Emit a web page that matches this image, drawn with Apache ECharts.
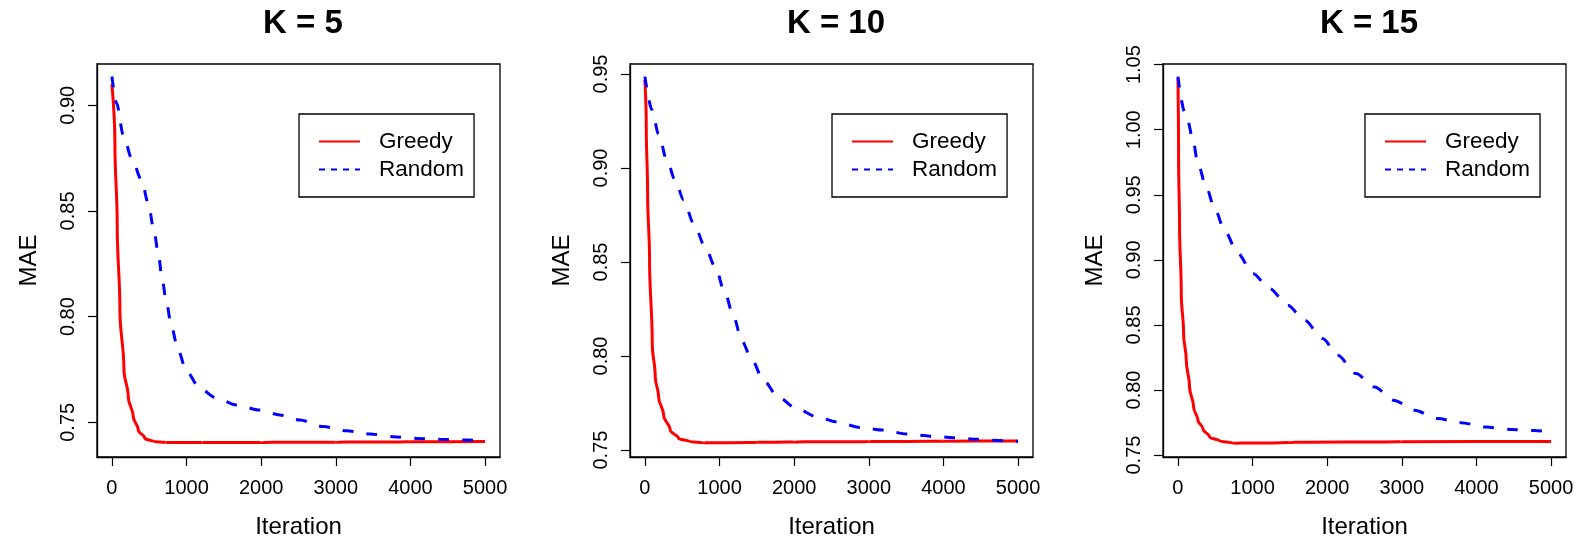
<!DOCTYPE html>
<html>
<head>
<meta charset="utf-8">
<script src="https://cdn.jsdelivr.net/npm/echarts@6/dist/echarts.min.js"></script>
<style>
html, body { margin: 0; padding: 0; background: #fff; }
#chart { width: 1589px; height: 537px; }
</style>
</head>
<body>
<div id="chart"></div>
<script>
// ---- data ----
const panelTitles = ['K = 5', 'K = 10', 'K = 15'];
const seriesNames = ['Greedy', 'Random'];
const iterTicks = [0, 1000, 2000, 3000, 4000, 5000];
const k5YTicks = [0.75, 0.80, 0.85, 0.90];
const k10YTicks = [0.75, 0.80, 0.85, 0.90, 0.95];
const k15YTicks = [0.75, 0.80, 0.85, 0.90, 0.95, 1.00, 1.05];

const k5GreedyIter = [0, 40, 71, 107, 161, 219, 286, 353, 442, 554, 732, 1200, 2000, 3000, 4000, 5000];
const k5GreedyMAE = [0.910, 0.882, 0.843, 0.803, 0.775, 0.762, 0.7527, 0.7464, 0.7424, 0.7409, 0.7404, 0.7404, 0.7405, 0.7406, 0.7408, 0.7409];
const k5RandomIter = [0, 62, 152, 263, 397, 487, 562, 621, 674, 732, 799, 888, 1000, 1179, 1402, 1670, 1982, 2250, 2518, 2830, 3143, 3455, 3768, 4080, 4393, 4750, 5000];
const k5RandomMAE = [0.9136, 0.901, 0.886, 0.875, 0.8647, 0.8536, 0.841, 0.830, 0.8174, 0.8063, 0.795, 0.784, 0.774, 0.766, 0.7614, 0.7582, 0.7558, 0.7535, 0.7511, 0.748, 0.746, 0.7445, 0.7432, 0.7424, 0.742, 0.7416, 0.7413];

const k10GreedyIter = [0, 18, 36, 62, 98, 138, 183, 250, 339, 451, 607, 786, 1500, 2000, 3000, 4000, 5000];
const k10GreedyMAE = [0.9468, 0.922, 0.8865, 0.851, 0.8067, 0.789, 0.7784, 0.7686, 0.7606, 0.7562, 0.7544, 0.7539, 0.7541, 0.7543, 0.7545, 0.7547, 0.7548];
const k10RandomIter = [0, 94, 183, 295, 406, 518, 652, 808, 942, 1076, 1188, 1299, 1433, 1589, 1790, 2036, 2304, 2571, 2884, 3196, 3509, 3821, 4134, 4446, 4804, 5000];
const k10RandomMAE = [0.9486, 0.931, 0.918, 0.904, 0.8934, 0.883, 0.8706, 0.858, 0.8474, 0.833, 0.821, 0.808, 0.798, 0.787, 0.778, 0.772, 0.7677, 0.765, 0.762, 0.7606, 0.7585, 0.7574, 0.7566, 0.7557, 0.755, 0.7546];

const k15GreedyIter = [0, 9, 22, 45, 76, 112, 156, 210, 268, 335, 424, 558, 736, 1500, 3000, 5000];
const k15GreedyMAE = [1.0395, 0.9767, 0.9254, 0.874, 0.8433, 0.8228, 0.8023, 0.7869, 0.7767, 0.7703, 0.7638, 0.7608, 0.7592, 0.7597, 0.7602, 0.7605];
const k15RandomIter = [0, 89, 134, 201, 268, 379, 491, 633, 803, 1004, 1227, 1472, 1695, 1940, 2141, 2386, 2632, 2899, 3167, 3479, 3791, 4126, 4460, 4773, 5000];
const k15RandomMAE = [1.0408, 1.0138, 1.0062, 0.992, 0.974, 0.956, 0.9395, 0.9215, 0.9049, 0.8895, 0.878, 0.8651, 0.8536, 0.8395, 0.8267, 0.8126, 0.8023, 0.792, 0.7844, 0.778, 0.7749, 0.7715, 0.7697, 0.7689, 0.7677];

// ---- layout / style ----
const FONT = "'Liberation Sans', Arial, Helvetica, sans-serif";
const panels = [
  { left: 97, yMin: 0.7336, yMax: 0.9195, yTicks: k5YTicks,
    g: [k5GreedyIter, k5GreedyMAE], r: [k5RandomIter, k5RandomMAE] },
  { left: 630, yMin: 0.7463, yMax: 0.9553, yTicks: k10YTicks,
    g: [k10GreedyIter, k10GreedyMAE], r: [k10RandomIter, k10RandomMAE] },
  { left: 1163, yMin: 0.7485, yMax: 1.0505, yTicks: k15YTicks,
    g: [k15GreedyIter, k15GreedyMAE], r: [k15RandomIter, k15RandomMAE] }
];
const GRID_W = 403, GRID_TOP = 64, GRID_H = 393;
const zip = (xs, ys) => xs.map((x, i) => [x, ys[i]]);
const SOLID_ICON = 'path://M0,0L41,0L41,2L0,2Z';
const DASH_ICON = 'path://M0,0h6v2h-6zM12,0h6v2h-6zM24,0h6v2h-6zM36,0h5v2h-5z';

const option = {
  backgroundColor: '#fff',
  animation: false,
  title: [], grid: [], xAxis: [], yAxis: [], series: [], legend: []
};

panels.forEach((p, i) => {
  option.title.push({
    text: panelTitles[i],
    left: p.left + GRID_W / 2 + 4.5,
    top: 7,
    padding: 0,
    textAlign: 'center',
    textStyle: { fontFamily: FONT, fontSize: 33, fontWeight: 'bold', color: '#000' }
  });
  option.grid.push({
    left: p.left, top: GRID_TOP, width: GRID_W, height: GRID_H,
    containLabel: false, outerBoundsMode: 'none',
    show: true, borderColor: '#000', borderWidth: 1.3, backgroundColor: 'transparent'
  });
  option.xAxis.push({
    type: 'value', gridIndex: i, min: -200, max: 5200, position: 'bottom',
    name: 'Iteration', nameLocation: 'middle', nameGap: 58,
    nameTextStyle: { fontFamily: FONT, fontSize: 24, color: '#000' },
    axisLine: { show: true, onZero: false, lineStyle: { color: '#000', width: 1.3 } },
    axisTick: { show: true, inside: false, length: 9, customValues: iterTicks,
      lineStyle: { color: '#000', width: 1.2 } },
    axisLabel: { customValues: iterTicks, margin: 21, formatter: v => String(v),
      fontFamily: FONT, fontSize: 20, color: '#000' },
    splitLine: { show: false }
  });
  option.yAxis.push({
    type: 'value', gridIndex: i, min: p.yMin, max: p.yMax, position: 'left',
    name: 'MAE', nameLocation: 'middle', nameGap: 56, nameRotate: 90,
    nameTextStyle: { fontFamily: FONT, fontSize: 24, color: '#000' },
    axisLine: { show: true, onZero: false, lineStyle: { color: '#000', width: 1.3 } },
    axisTick: { show: true, inside: false, length: 9, customValues: p.yTicks,
      lineStyle: { color: '#000', width: 1.2 } },
    axisLabel: { customValues: p.yTicks, rotate: 90, margin: 19,
      formatter: v => v.toFixed(2),
      fontFamily: FONT, fontSize: 20, color: '#000' },
    splitLine: { show: false }
  });
  option.series.push({
    name: seriesNames[0], type: 'line', xAxisIndex: i, yAxisIndex: i,
    data: zip(p.g[0], p.g[1]), symbol: 'none', smooth: 0.4, smoothMonotone: 'y',
    lineStyle: { color: '#ff0000', width: 3 }, itemStyle: { color: '#ff0000' }, z: 3
  });
  option.series.push({
    name: seriesNames[1], type: 'line', xAxisIndex: i, yAxisIndex: i,
    data: zip(p.r[0], p.r[1]), symbol: 'none', smooth: 0.3, smoothMonotone: 'x',
    lineStyle: { color: '#0000ff', width: 3, type: [11, 13] }, itemStyle: { color: '#0000ff' }, z: 4
  });
  option.legend.push({
    left: p.left + GRID_W - 24 - 177,
    top: 114,
    orient: 'vertical',
    padding: [16, 10, 16, 20],
    itemGap: 5,
    itemWidth: 41,
    itemHeight: 2,
    borderColor: '#000',
    borderWidth: 1.3,
    borderRadius: 0,
    selectedMode: false,
    textStyle: { fontFamily: FONT, fontSize: 22.5, color: '#000', lineHeight: 22, padding: [0, 0, 0, 14] },
    data: [
      { name: seriesNames[0], icon: SOLID_ICON, itemStyle: { color: '#ff0000', borderWidth: 0 } },
      { name: seriesNames[1], icon: DASH_ICON, itemStyle: { color: '#0000ff', borderWidth: 0 } }
    ]
  });
});

const chart = echarts.init(document.getElementById('chart'), null, { renderer: 'canvas' });
chart.setOption(option);
</script>
</body>
</html>
